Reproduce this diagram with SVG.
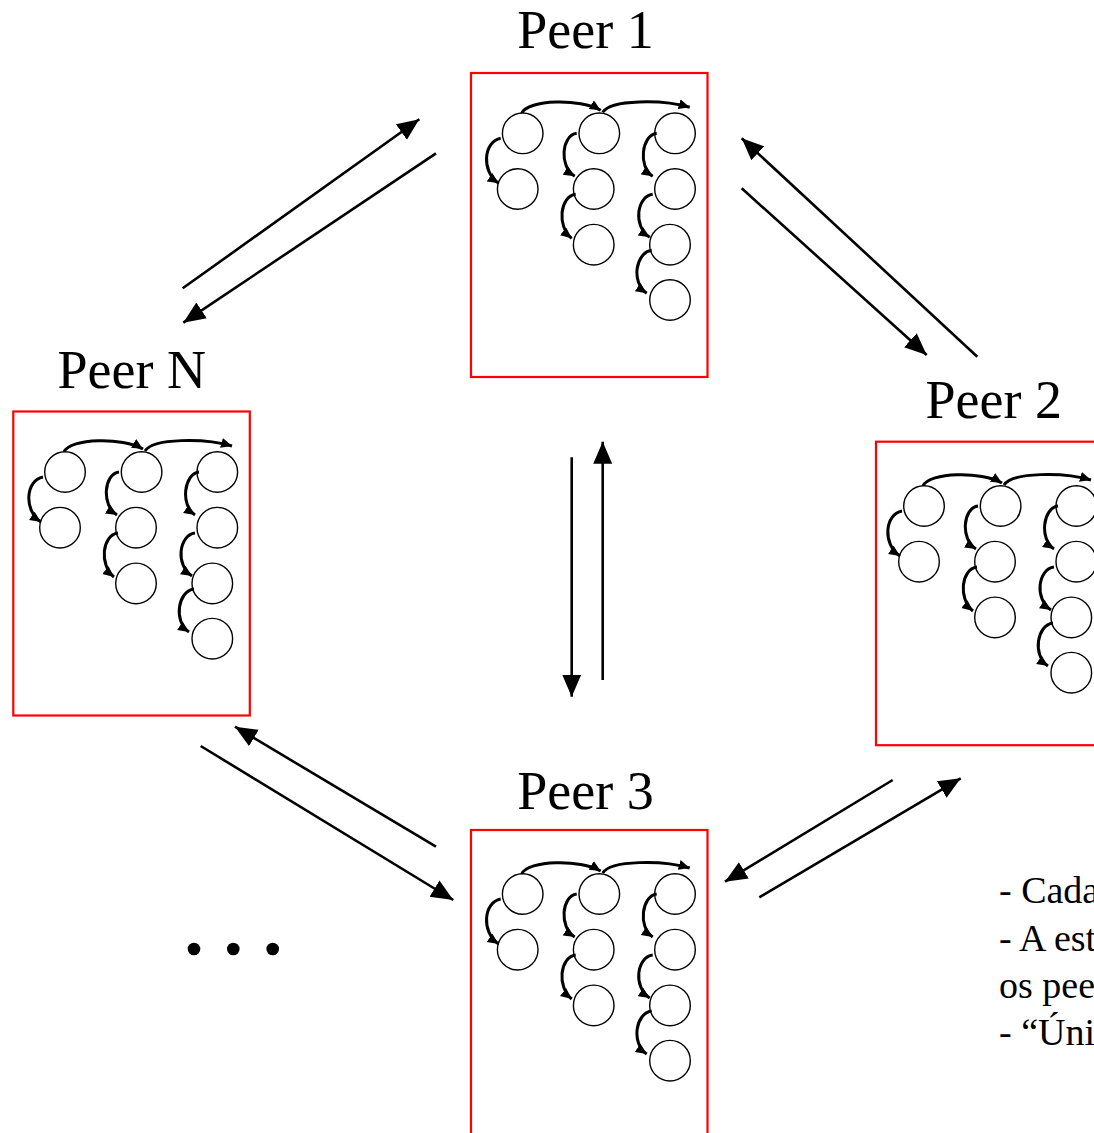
<svg xmlns="http://www.w3.org/2000/svg" width="1094" height="1133" viewBox="0 0 1094 1133">
<style>
.box{fill:#fff;stroke:#ff0000;stroke-width:2.2}
.node{fill:#fff;stroke:#000;stroke-width:1.4}
.arc{fill:none;stroke:#000;stroke-width:3;marker-end:url(#small)}
.link{fill:none;stroke:#000;stroke-width:2.6;marker-end:url(#big)}
.label{font-family:"Liberation Serif","Times New Roman",serif;font-size:54px;fill:#000;text-anchor:middle}
.note{font-family:"Liberation Serif","Times New Roman",serif;font-size:38px;fill:#000}
</style>
<defs>
<marker id="big" markerUnits="userSpaceOnUse" markerWidth="24" markerHeight="20" refX="22" refY="9.5" orient="auto">
<path d="M0,0 L22,9.5 L0,19 z" fill="#000"/>
</marker>
<marker id="small" markerUnits="userSpaceOnUse" markerWidth="13" markerHeight="11" refX="11" refY="5" orient="auto">
<path d="M0,0 L11,5 L0,10 z" fill="#000"/>
</marker>
<g id="tree">
<path class="arc" d="M-1,-20 C5,-34 58,-35 78,-23"/>
<path class="arc" d="M80,-21 C88,-34 140,-34 167,-26"/>
<circle class="node" cx="0" cy="0" r="20.3"/>
<circle class="node" cx="-5" cy="55.7" r="20.3"/>
<circle class="node" cx="76.6" cy="0" r="20.3"/>
<circle class="node" cx="71" cy="55.7" r="20.3"/>
<circle class="node" cx="71" cy="111.4" r="20.3"/>
<circle class="node" cx="152.3" cy="0" r="20.3"/>
<circle class="node" cx="152.3" cy="55.7" r="20.3"/>
<circle class="node" cx="147.3" cy="111.4" r="20.3"/>
<circle class="node" cx="147.3" cy="166.7" r="20.3"/>
<path class="arc" d="M-22,5 C-39,8 -42,38 -24,50"/>
<path class="arc" d="M54,0 C39,2 36,33 52,43"/>
<path class="arc" d="M53,61 C37,63 34,93 49,105"/>
<path class="arc" d="M134,0 C119,2 115,33 130,43"/>
<path class="arc" d="M130,61 C114,63 110,93 127,104"/>
<path class="arc" d="M129,117 C113,119 108,149 124,160"/>
</g>
</defs>
<rect width="1094" height="1133" fill="#fff"/>

<g id="peer1">
<rect class="box" x="471" y="73" width="236.5" height="304"/>
<use href="#tree" transform="translate(522.7,133.3)"/>
<text class="label" x="585.5" y="48">Peer 1</text>
</g>

<g id="peerN">
<rect class="box" x="13.3" y="411.5" width="236.5" height="304"/>
<use href="#tree" transform="translate(65,472)"/>
<text class="label" x="131.7" y="388">Peer N</text>
</g>

<g id="peer2">
<rect class="box" x="876" y="441.7" width="240" height="303.5"/>
<use href="#tree" transform="translate(924,506)"/>
<text class="label" x="993.8" y="418">Peer 2</text>
</g>

<g id="peer3">
<rect class="box" x="471" y="830" width="236.5" height="310"/>
<use href="#tree" transform="translate(522.7,894)"/>
<text class="label" x="585.5" y="809">Peer 3</text>
</g>

<g id="connectors">
<line class="link" x1="182.7" y1="288.3" x2="419.3" y2="119.3"/>
<line class="link" x1="436" y1="153.3" x2="183.3" y2="322.7"/>
<line class="link" x1="977.3" y1="356.7" x2="741.7" y2="138.3"/>
<line class="link" x1="741.7" y1="188.3" x2="926.7" y2="355"/>
<line class="link" x1="571.7" y1="457.3" x2="571.7" y2="696.7"/>
<line class="link" x1="602.7" y1="680" x2="602.7" y2="441.7"/>
<line class="link" x1="436" y1="846.7" x2="235" y2="726.7"/>
<line class="link" x1="200.7" y1="746" x2="453.3" y2="900"/>
<line class="link" x1="892.7" y1="780" x2="725" y2="881.7"/>
<line class="link" x1="759.3" y1="897.3" x2="960.7" y2="778.3"/>
</g>

<g id="ellipsis">
<circle cx="194" cy="949" r="6.3" fill="#000"/>
<circle cx="233.3" cy="949" r="6.3" fill="#000"/>
<circle cx="272.7" cy="949" r="6.3" fill="#000"/>
</g>

<g id="notes">
<text class="note" x="999" y="903">- Cada</text>
<text class="note" x="999" y="950.5">- A est</text>
<text class="note" x="999" y="998">os pee</text>
<text class="note" x="999" y="1045">- “Úni</text>
</g>
</svg>
